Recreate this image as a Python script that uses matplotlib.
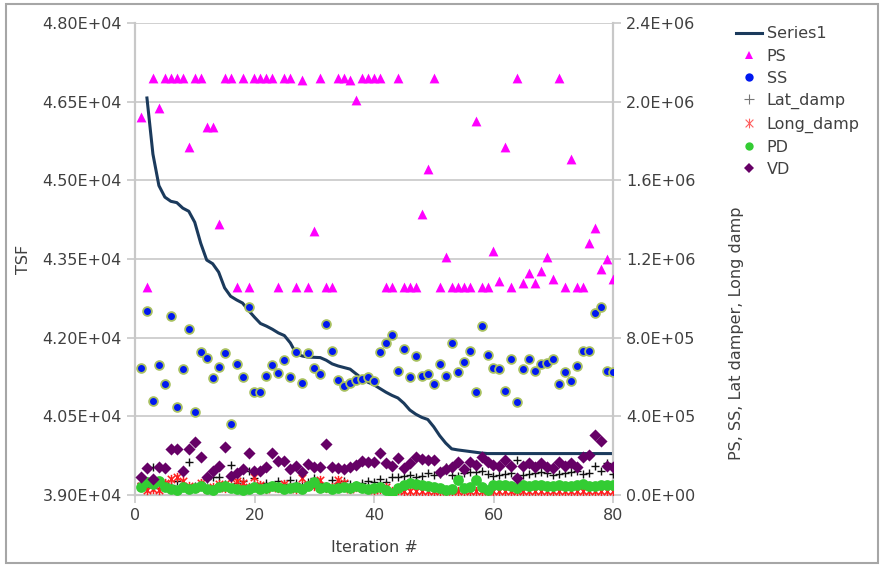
import matplotlib
matplotlib.use("Agg")
import matplotlib.pyplot as plt
from matplotlib.lines import Line2D
from matplotlib.patches import Rectangle
from matplotlib.path import Path
from matplotlib.ticker import FuncFormatter, MultipleLocator

plt.rcParams['font.family'] = ['DejaVu Sans']

# iteration index for the scatter series
iters = list(range(1, 81))

# Series1 (TSF, left axis) starts at iteration 2
tsf_iters = list(range(2, 81))
tsf = [46570, 45500, 44900, 44680, 44600, 44575, 44470, 44410, 44200,
       43800, 43480, 43410, 43250, 42950, 42790, 42720, 42660, 42520, 42390,
       42270, 42220, 42160, 42090, 42040, 41900, 41690, 41650, 41630, 41625,
       41620, 41570, 41500, 41460, 41430, 41400, 41310, 41220, 41150, 41100,
       41030, 40960, 40900, 40850, 40750, 40620, 40540, 40480, 40440, 40300,
       40130, 39990, 39880, 39860, 39845, 39830, 39815, 39800, 39790, 39790,
       39790, 39790, 39790, 39790, 39790, 39790, 39790, 39790, 39790, 39790,
       39790, 39790, 39790, 39790, 39790, 39790, 39790, 39790, 39790, 39790]

# right axis series
ps = [1.92e6, 1.06e6, 2.12e6, 1.97e6, 2.12e6, 2.12e6, 2.12e6, 2.12e6, 1.77e6, 2.12e6,
      2.12e6, 1.87e6, 1.87e6, 1.38e6, 2.12e6, 2.12e6, 1.06e6, 2.12e6, 1.06e6, 2.12e6,
      2.12e6, 2.12e6, 2.12e6, 1.06e6, 2.12e6, 2.12e6, 1.06e6, 2.11e6, 1.06e6, 1.34e6,
      2.12e6, 1.06e6, 1.06e6, 2.12e6, 2.12e6, 2.11e6, 2.01e6, 2.12e6, 2.12e6, 2.12e6,
      2.12e6, 1.06e6, 1.06e6, 2.12e6, 1.06e6, 1.06e6, 1.06e6, 1.43e6, 1.66e6, 2.12e6,
      1.06e6, 1.21e6, 1.06e6, 1.06e6, 1.06e6, 1.06e6, 1.90e6, 1.06e6, 1.06e6, 1.24e6,
      1.09e6, 1.77e6, 1.06e6, 2.12e6, 1.08e6, 1.13e6, 1.08e6, 1.14e6, 1.21e6, 1.10e6,
      2.12e6, 1.06e6, 1.71e6, 1.06e6, 1.06e6, 1.28e6, 1.36e6, 1.15e6, 1.20e6, 1.10e6]

ss = [644e3, 937e3, 479e3, 661e3, 563e3, 911e3, 446e3, 640e3, 845e3, 423e3,
      728e3, 695e3, 593e3, 652e3, 720e3, 359e3, 666e3, 598e3, 957e3, 522e3,
      522e3, 607e3, 661e3, 618e3, 686e3, 598e3, 725e3, 569e3, 720e3, 647e3,
      613e3, 868e3, 732e3, 585e3, 554e3, 571e3, 585e3, 588e3, 598e3, 581e3,
      728e3, 771e3, 813e3, 630e3, 742e3, 598e3, 707e3, 607e3, 613e3, 564e3,
      664e3, 607e3, 771e3, 627e3, 678e3, 734e3, 522e3, 861e3, 712e3, 647e3,
      640e3, 529e3, 690e3, 474e3, 640e3, 690e3, 632e3, 664e3, 669e3, 690e3,
      564e3, 624e3, 581e3, 657e3, 732e3, 732e3, 923e3, 957e3, 630e3, 627e3]

lat_damp = [60e3, 40e3, 144e3, 36e3, 60e3, 50e3, 70e3, 55e3, 169e3, 45e3,
            60e3, 80e3, 93e3, 91e3, 55e3, 152e3, 60e3, 70e3, 124e3, 86e3,
            50e3, 60e3, 45e3, 70e3, 55e3, 75e3, 60e3, 50e3, 65e3, 86e3,
            60e3, 45e3, 75e3, 60e3, 70e3, 55e3, 50e3, 60e3, 70e3, 65e3,
            80e3, 68e3, 90e3, 93e3, 95e3, 100e3, 90e3, 95e3, 110e3, 100e3,
            105e3, 144e3, 100e3, 95e3, 110e3, 118e3, 115e3, 120e3, 105e3, 95e3,
            100e3, 105e3, 110e3, 178e3, 100e3, 105e3, 110e3, 115e3, 110e3, 100e3,
            105e3, 110e3, 115e3, 120e3, 105e3, 110e3, 149e3, 120e3, 161e3, 105e3]

long_damp = [45e3, 25e3, 30e3, 25e3, 60e3, 80e3, 90e3, 70e3, 45e3, 35e3,
             60e3, 30e3, 40e3, 55e3, 35e3, 85e3, 70e3, 60e3, 40e3, 90e3,
             50e3, 30e3, 45e3, 35e3, 55e3, 40e3, 30e3, 85e3, 50e3, 45e3,
             75e3, 35e3, 40e3, 75e3, 60e3, 30e3, 40e3, 35e3, 30e3, 25e3,
             30e3, 40e3, 20e3, 25e3, 20e3, 18e3, 20e3, 18e3, 20e3, 18e3,
             20e3, 18e3, 20e3, 18e3, 20e3, 18e3, 20e3, 18e3, 20e3, 18e3,
             20e3, 18e3, 20e3, 18e3, 20e3, 18e3, 20e3, 18e3, 20e3, 18e3,
             20e3, 18e3, 20e3, 18e3, 20e3, 18e3, 20e3, 18e3, 20e3, 18e3]

pd_ = [40e3, 65e3, 55e3, 70e3, 40e3, 30e3, 25e3, 40e3, 30e3, 35e3,
       45e3, 30e3, 25e3, 40e3, 45e3, 35e3, 30e3, 25e3, 30e3, 40e3,
       30e3, 35e3, 45e3, 40e3, 30e3, 35e3, 40e3, 30e3, 45e3, 65e3,
       35e3, 40e3, 30e3, 35e3, 40e3, 35e3, 45e3, 35e3, 30e3, 35e3,
       42e3, 25e3, 10e3, 34e3, 51e3, 59e3, 55e3, 50e3, 45e3, 42e3,
       34e3, 25e3, 30e3, 76e3, 34e3, 42e3, 76e3, 42e3, 25e3, 51e3,
       51e3, 50e3, 45e3, 34e3, 50e3, 48e3, 52e3, 50e3, 48e3, 46e3,
       50e3, 48e3, 45e3, 50e3, 55e3, 48e3, 45e3, 52e3, 50e3, 52e3]

vd = [93e3, 139e3, 81e3, 144e3, 136e3, 234e3, 234e3, 124e3, 234e3, 268e3,
      192e3, 93e3, 124e3, 149e3, 242e3, 98e3, 110e3, 132e3, 212e3, 122e3,
      124e3, 141e3, 212e3, 174e3, 174e3, 132e3, 149e3, 118e3, 158e3, 144e3,
      144e3, 259e3, 144e3, 136e3, 132e3, 144e3, 152e3, 174e3, 169e3, 167e3,
      215e3, 164e3, 147e3, 190e3, 136e3, 161e3, 195e3, 183e3, 178e3, 178e3,
      118e3, 131e3, 141e3, 169e3, 131e3, 169e3, 152e3, 192e3, 169e3, 152e3,
      147e3, 178e3, 147e3, 85e3, 147e3, 161e3, 144e3, 164e3, 141e3, 137e3,
      169e3, 147e3, 164e3, 141e3, 192e3, 203e3, 305e3, 274e3, 147e3, 144e3]

grid_c = '#C8C8C8'
txt_c = '#404040'

# excel style star: an x with a vertical bar
star = Path([(0, -1), (0, 1), (-0.8, -0.8), (0.8, 0.8), (-0.8, 0.8), (0.8, -0.8)],
            [Path.MOVETO, Path.LINETO] * 3)

fig = plt.figure(figsize=(8.81, 5.66), dpi=100)
ax = fig.add_axes([135 / 881, 71 / 566, 478 / 881, 472 / 566])
ax2 = ax.twinx()

ax.plot(tsf_iters, tsf, color='#1B3A5C', lw=2.2, zorder=3)

ax2.scatter(iters, ps, marker='^', s=50, color='#FF00FF', lw=0, zorder=3)
ax2.scatter(iters, ss, marker='o', s=40, facecolor='#0018F0', edgecolor='#A8C060', lw=1.3, zorder=3)
ax2.scatter(iters, lat_damp, marker='+', s=40, color='#111111', lw=1.0, zorder=3)
ax2.scatter(iters, long_damp, marker=star, s=45, color='#FF2020', lw=1.1, zorder=3)
ax2.scatter(iters, pd_, marker='o', s=60, color='#33CC33', lw=0, zorder=3)
ax2.scatter(iters, vd, marker='D', s=38, color='#660066', lw=0, zorder=3)

ax.set_xlim(0, 80)
ax.set_ylim(39000, 48000)
ax2.set_ylim(0, 2.4e6)
ax.xaxis.set_major_locator(MultipleLocator(20))
ax.yaxis.set_major_locator(MultipleLocator(1500))
ax2.yaxis.set_major_locator(MultipleLocator(4e5))
ax.yaxis.set_major_formatter(FuncFormatter(lambda v, p: '%.2E' % v))
ax2.yaxis.set_major_formatter(FuncFormatter(lambda v, p: '%.1E' % v))

ax.grid(axis='y', color=grid_c, lw=1.2, zorder=0)
ax.set_axisbelow(True)
for a in (ax, ax2):
    a.spines['top'].set_visible(False)
    for s in ('left', 'right', 'bottom'):
        a.spines[s].set_color(grid_c)
        a.spines[s].set_linewidth(1.5)
    a.tick_params(colors=grid_c, labelcolor=txt_c, labelsize=11.5, length=6, width=1.2)

ax.set_xlabel('Iteration #', fontsize=11.5, color=txt_c, labelpad=12)
ax.set_ylabel('TSF', fontsize=11.5, color=txt_c, labelpad=8)
fig.text(737 / 881, 1 - 333 / 566, 'PS, SS, Lat damper, Long damp', rotation=90,
         ha='center', va='center', fontsize=11.5, color=txt_c)

handles = [
    Line2D([], [], color='#1B3A5C', lw=2.2),
    Line2D([], [], marker='^', ls='', ms=6, color='#FF00FF', mew=0),
    Line2D([], [], marker='o', ls='', ms=6, color='#0018F0', mew=0),
    Line2D([], [], marker='+', ls='', ms=7, color='#777777', mew=0.8),
    Line2D([], [], marker=star, ls='', ms=7, color='#FF6060', mew=0.8),
    Line2D([], [], marker='o', ls='', ms=6, color='#33CC33', mew=0),
    Line2D([], [], marker='D', ls='', ms=5, color='#660066', mew=0),
]
labels = ['Series1', 'PS', 'SS', 'Lat_damp', 'Long_damp', 'PD', 'VD']
fig.legend(handles, labels, loc='upper left', bbox_to_anchor=(722 / 881, 1 - 12 / 566),
           frameon=False, fontsize=11.5, handlelength=1.6, handletextpad=0.3,
           labelspacing=0.45, labelcolor=txt_c)

fig.patches.append(Rectangle((6 / 881, 3 / 566), 872 / 881, 559 / 566, transform=fig.transFigure,
                             fill=False, edgecolor='#A6A6A6', lw=1.5))

fig.savefig('out.png', dpi=100)
